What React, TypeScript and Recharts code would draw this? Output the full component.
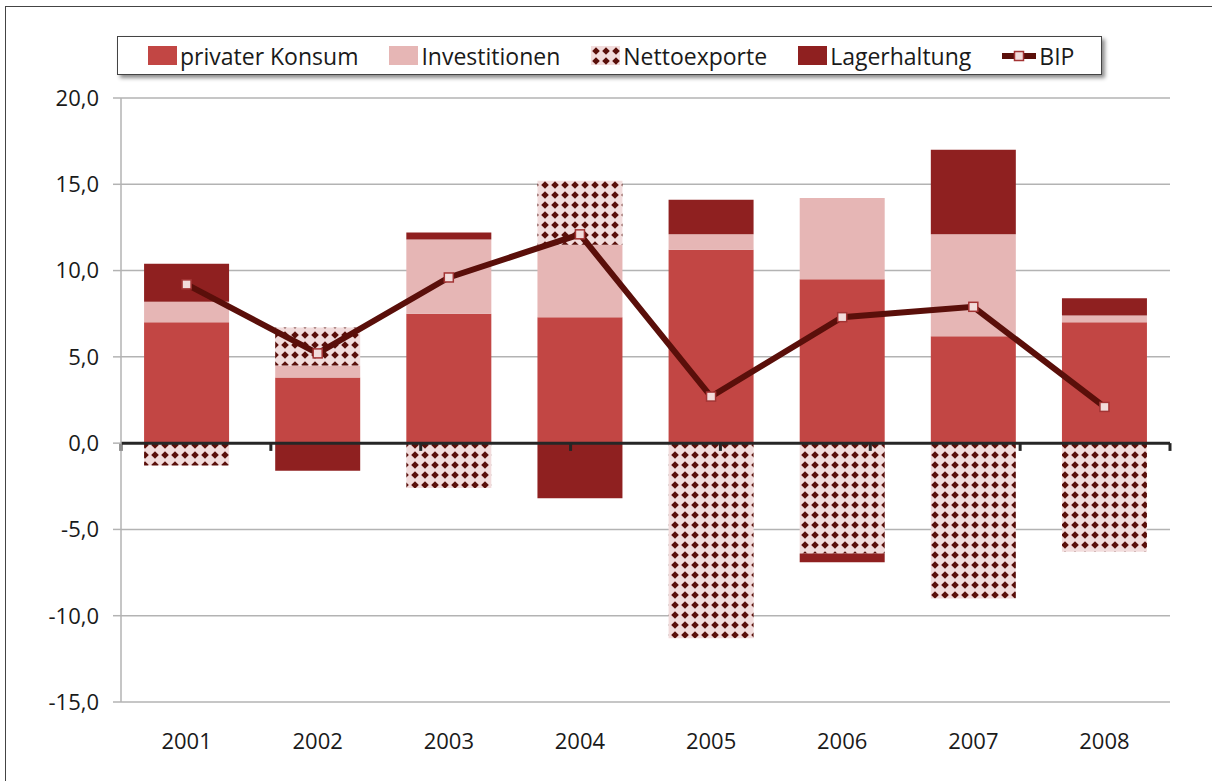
import React from 'react';
import { ComposedChart, Bar, Line, XAxis, YAxis, CartesianGrid, ReferenceLine } from 'recharts';

const years = ['2001', '2002', '2003', '2004', '2005', '2006', '2007', '2008'];
const privaterKonsum = [7.0, 3.8, 7.5, 7.3, 11.2, 9.5, 6.2, 7.0];
const investitionen = [1.2, 0.7, 4.3, 4.2, 0.9, 4.7, 5.9, 0.4];
const nettoexporte = [-1.3, 2.2, -2.6, 3.7, -11.3, -6.4, -9.0, -6.3];
const lagerhaltung = [2.2, -1.6, 0.4, -3.2, 2.0, -0.5, 4.9, 1.0];
const bip = [9.2, 5.2, 9.6, 12.1, 2.7, 7.3, 7.9, 2.1];
const yTicks = [-15, -10, -5, 0, 5, 10, 15, 20];
const boundaries = [0, 1, 2, 3, 4, 5, 6, 7, 8];

const seriesNames = ['privater Konsum', 'Investitionen', 'Nettoexporte', 'Lagerhaltung', 'BIP'];

const C_KONSUM = '#c24644';
const C_INV = '#e6b6b5';
const C_LAGER = '#8f2020';
const C_BIP = '#5a0f0a';
const C_PAT_BG = '#f2dcdc';

const data = years.map((y, i) => ({
  year: y,
  konsum: privaterKonsum[i],
  inv: investitionen[i],
  netto: nettoexporte[i],
  lager: lagerhaltung[i],
  bip: bip[i],
}));

const FONT = '"Open Sans", "DejaVu Sans", sans-serif';

const SquareDot = (props: any) => {
  const { cx, cy, index } = props;
  if (cx == null || cy == null) return null;
  return (
    <rect key={'d' + index} x={cx - 4.5} y={cy - 4.5} width={9} height={9}
      fill="#f2dcdb" stroke="#a33434" strokeWidth={1.5} />
  );
};

const legendMarker = (name: string) => {
  if (name === 'BIP') {
    return (
      <svg width={34} height={14} style={{ display: 'block' }}>
        <line x1={1} y1={7} x2={33} y2={7} stroke={C_BIP} strokeWidth={6} strokeLinecap="round" />
        <rect x={12.5} y={2.5} width={9} height={9} fill="#f2dcdb" stroke="#a33434" strokeWidth={1.5} />
      </svg>
    );
  }
  const fill = name === 'privater Konsum' ? C_KONSUM : name === 'Investitionen' ? C_INV
    : name === 'Lagerhaltung' ? C_LAGER : 'url(#nettoPattern)';
  return (
    <svg width={29} height={19} style={{ display: 'block' }}>
      <rect x={0} y={0} width={29} height={19} fill={fill} />
    </svg>
  );
};

export default function App() {
  return (
    <div style={{ position: 'absolute', left: 0, top: 0, width: 1212, height: 781, overflow: 'hidden', background: '#fff', fontFamily: FONT }}>
      <svg width={0} height={0} style={{ position: 'absolute' }}>
        <defs>
          <pattern id="nettoPattern" patternUnits="userSpaceOnUse" width={10} height={10}>
            <rect x={0} y={0} width={10} height={10} fill={C_PAT_BG} />
            <polygon points="5,1.2 8.8,5 5,8.8 1.2,5" fill={C_BIP} />
          </pattern>
        </defs>
      </svg>
      <div style={{ position: 'absolute', left: 5, top: 6, width: 1400, height: 900, border: '1.5px solid #444' }} />
      <div style={{ position: 'absolute', left: 0, top: 0 }}>
        <ComposedChart width={1212} height={781} data={data} stackOffset="sign"
          margin={{ top: 98, right: 42, bottom: 0, left: 21 }} barCategoryGap="17.6%">
          <CartesianGrid vertical={false} stroke="#b3b3b3" strokeWidth={1.5} />
          <XAxis dataKey="year" axisLine={false} tickLine={false} tickSize={0} tickMargin={31} height={79}
            tick={{ fontSize: 22, fill: '#1a1a1a', fontFamily: FONT }} interval={0} />
          <XAxis xAxisId="num" type="number" domain={[0, 8]} allowDataOverflow hide />
          <YAxis domain={[-15, 20]} ticks={yTicks} width={100} interval={0}
            axisLine={{ stroke: '#b3b3b3', strokeWidth: 1.5 }} tickLine={{ stroke: '#b3b3b3', strokeWidth: 1.5 }}
            tickSize={8} tickMargin={14}
            tickFormatter={(v: number) => v.toFixed(1).replace('.', ',')}
            tick={{ fontSize: 22, fill: '#1a1a1a', fontFamily: FONT }} />
          <Bar dataKey="konsum" name={seriesNames[0]} stackId="s" fill={C_KONSUM} isAnimationActive={false} />
          <Bar dataKey="inv" name={seriesNames[1]} stackId="s" fill={C_INV} isAnimationActive={false} />
          <Bar dataKey="netto" name={seriesNames[2]} stackId="s" fill="url(#nettoPattern)" isAnimationActive={false} />
          <Bar dataKey="lager" name={seriesNames[3]} stackId="s" fill={C_LAGER} isAnimationActive={false} />
          <ReferenceLine y={0} stroke="#262626" strokeWidth={3} />
          {boundaries.map((b) => (
            <ReferenceLine key={'t' + b} xAxisId="num" segment={[{ x: b, y: 0 }, { x: b, y: -0.45 }]}
              stroke="#262626" strokeWidth={3} />
          ))}
          <Line dataKey="bip" name={seriesNames[4]} stroke={C_BIP} strokeWidth={6} dot={SquareDot}
            activeDot={false} isAnimationActive={false} />
        </ComposedChart>
      </div>
      <div style={{
        position: 'absolute', left: 117, top: 36, width: 985, height: 39, border: '1.5px solid #444',
        background: '#fff', boxShadow: '3px 3px 4px rgba(0,0,0,0.45)', display: 'flex', alignItems: 'center',
        paddingLeft: 30, boxSizing: 'border-box', fontSize: 23, color: '#1a1a1a', fontFamily: FONT,
      }}>
        {seriesNames.map((n, i) => (
          <div key={n} style={{ display: 'flex', alignItems: 'center', marginRight: i < seriesNames.length - 1 ? 31 : 0 }}>
            {legendMarker(n)}
            <span style={{ marginLeft: 3, whiteSpace: 'nowrap', lineHeight: '24px' }}>{n}</span>
          </div>
        ))}
      </div>
    </div>
  );
}
